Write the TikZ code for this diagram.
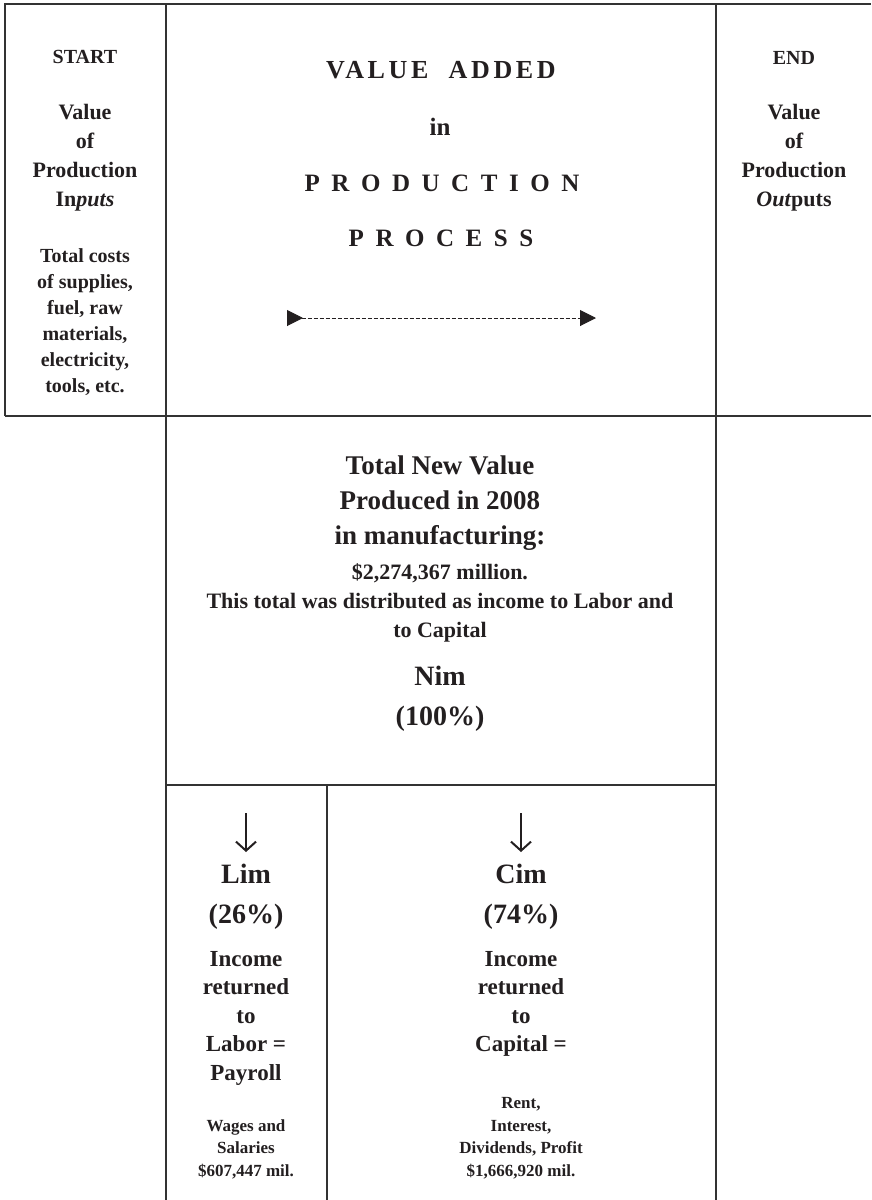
\documentclass[tikz,border=0pt]{standalone}
\usepackage{fontspec}
\setmainfont{Liberation Serif}
\newfontfamily\spacedfont[LetterSpace=14]{Liberation Serif}
\usetikzlibrary{arrows.meta}
\definecolor{ink}{HTML}{231F20}
\definecolor{rulecol}{HTML}{333333}
\newcommand\bsz[2]{\bfseries\fontsize{#1}{#2}\selectfont}
\newcommand\gp{\kern1.8pt}
\begin{document}
\begin{tikzpicture}[x=1pt,y=-1pt,
  frame/.style={draw=rulecol,line width=1.1pt},
  txt/.style={text=ink,align=center,inner sep=0pt},
  flowarrow/.style={draw=ink,line width=1pt,dash pattern=on 4pt off 2pt,
    {Triangle[reversed,length=16pt,width=16pt]}-{Triangle[length=16pt,width=16pt]}},
  downarrow/.style={draw=ink,line width=1.6pt,-{Straight Barb[length=9pt,width=20pt,line width=2pt]}}]
\useasboundingbox (0,0) rectangle (871,1200);
% frame lines
\draw[frame] (5,416) -- (5,4) -- (871,4);
\draw[frame] (5,416) -- (871,416);
\draw[frame] (166,4) -- (166,1200);
\draw[frame] (716,4) -- (716,1200);
\draw[frame] (166,785) -- (716,785);
\draw[frame] (327,785) -- (327,1200);
% left column
\node[txt,font=\bsz{20}{24}] (start) at (85,57) {START};
\node[txt,font=\bsz{22}{29}] (inputs) at (85,158) {Value\\of\\Production\\In\textit{puts}};
\node[txt,font=\bsz{20}{26}] (costs) at (85,322) {Total costs\\of supplies,\\fuel, raw\\materials,\\electricity,\\tools, etc.};
% right column
\node[txt,font=\bsz{20}{24}] (end) at (794,58) {END};
\node[txt,font=\bsz{22}{29}] (outputs) at (794,158) {Value\\of\\Production\\\textit{Out}puts};
% middle top
\node[txt,font=\spacedfont\bsz{26}{30}] (va) at (441,70) {VALUE\ \ ADDED};
\node[txt,font=\bsz{25}{30}] (in) at (440,127) {in};
\node[txt,font=\spacedfont\bsz{25}{30}] (prod) at (442,183) {P\gp{} R\gp{} O\gp{} D\gp{} U\gp{} C\gp{} T\gp{} I\gp{} O\gp{} N};
\node[txt,font=\spacedfont\bsz{25}{30}] (proc) at (441,238) {P\gp{} R\gp{} O\gp{} C\gp{} E\gp{} S\gp{} S};
\coordinate (pa) at (287,318);
\coordinate (pb) at (596,318);
\draw[flowarrow] (pa) -- (pb);
% middle box
\node[txt,font=\bsz{27}{35}] (tnv) at (440,503) {Total New Value\\Produced in 2008\\in manufacturing:};
\node[txt,font=\bsz{22}{29}] (dist) at (440,603) {\$2,274,367 million.\\This total was distributed as income to Labor and\\to Capital};
\node[txt,font=\bsz{28}{40}] (nim) at (440,699) {Nim\\(100\%)};
% lower left
\coordinate (la1) at (246,813);
\coordinate (la2) at (246,852);
\draw[downarrow] (la1) -- (la2);
\node[txt,font=\bsz{28}{40}] (lim) at (246,897) {Lim\\(26\%)};
\node[txt,font=\bsz{23}{28.5}] (labor) at (246,1018) {Income\\returned\\to\\Labor =\\Payroll};
\node[txt,font=\bsz{17}{22.5}] (wages) at (246,1149) {Wages and\\Salaries\\\$607,447 mil.};
% lower right
\coordinate (ca1) at (521,813);
\coordinate (ca2) at (521,852);
\draw[downarrow] (ca1) -- (ca2);
\node[txt,font=\bsz{28}{40}] (cim) at (521,897) {Cim\\(74\%)};
\node[txt,font=\bsz{23}{28.5}] (capital) at (521,1004) {Income\\returned\\to\\Capital =};
\node[txt,font=\bsz{17}{22.5}] (rent) at (521,1138) {Rent,\\Interest,\\Dividends, Profit\\\$1,666,920 mil.};
\end{tikzpicture}
\end{document}
